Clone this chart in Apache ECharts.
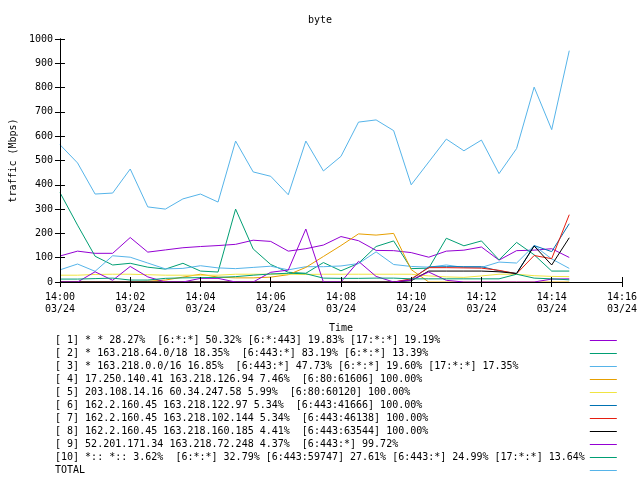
<!DOCTYPE html>
<html>
<head>
<meta charset="utf-8">
<script src="https://cdn.jsdelivr.net/npm/echarts@6/dist/echarts.min.js"></script>
<style>html,body{margin:0;padding:0;background:#fff}#c{width:640px;height:480px}</style>
</head>
<body>
<div id="c"></div>
<script>
const times = ['14:00:00','14:00:30','14:01:00','14:01:30','14:02:00','14:02:30','14:03:00','14:03:30','14:04:00','14:04:30',
  '14:05:00','14:05:30','14:06:00','14:06:30','14:07:00','14:07:30','14:08:00','14:08:30','14:09:00','14:09:30',
  '14:10:00','14:10:30','14:11:00','14:11:30','14:12:00','14:12:30','14:13:00','14:13:30','14:14:00','14:14:30'];
const tickLabels = ['14:00\n03/24','14:02\n03/24','14:04\n03/24','14:06\n03/24','14:08\n03/24','14:10\n03/24','14:12\n03/24','14:14\n03/24','14:16\n03/24'];
const yTicks = [0,100,200,300,400,500,600,700,800,900,1000];

const names = [
  '[ 1] * * 28.27%  [6:*:*] 50.32% [6:*:443] 19.83% [17:*:*] 19.19%',
  '[ 2] * 163.218.64.0/18 18.35%  [6:443:*] 83.19% [6:*:*] 13.39%',
  '[ 3] * 163.218.0.0/16 16.85%  [6:443:*] 47.73% [6:*:*] 19.60% [17:*:*] 17.35%',
  '[ 4] 17.250.140.41 163.218.126.94 7.46%  [6:80:61606] 100.00%',
  '[ 5] 203.108.14.16 60.34.247.58 5.99%  [6:80:60120] 100.00%',
  '[ 6] 162.2.160.45 163.218.122.97 5.34%  [6:443:41666] 100.00%',
  '[ 7] 162.2.160.45 163.218.102.144 5.34%  [6:443:46138] 100.00%',
  '[ 8] 162.2.160.45 163.218.160.185 4.41%  [6:443:63544] 100.00%',
  '[ 9] 52.201.171.34 163.218.72.248 4.37%  [6:443:*] 99.72%',
  '[10] *:: *:: 3.62%  [6:*:*] 32.79% [6:443:59747] 27.61% [6:443:*] 24.99% [17:*:*] 13.64%',
  'TOTAL'
];
const colors = ['#9400d3','#009e73','#56b4e9','#e69f00','#f0e442','#0072b2','#e51e10','#000000','#9400d3','#009e73','#56b4e9'];

const s1 = [107,127,118,118,183,123,132,141,146,150,155,172,167,127,137,152,187,170,130,129,121,102,127,131,144,90,129,131,137,101];
const s2 = [368,234,106,70,77,61,53,77,45,41,300,136,72,40,36,80,46,77,146,169,55,57,180,149,169,91,163,112,45,45];
const s3 = [50,74,44,108,102,78,54,56,67,58,55,60,65,50,63,63,66,76,124,72,64,61,70,60,60,82,78,150,95,56];
const s4 = [0,0,0,0,0,3,8,20,32,20,17,17,20,30,60,105,150,198,193,200,51,0,0,0,0,0,0,0,0,0];
const s5 = [28,28,31,32,32,30,28,28,28,28,32,32,32,32,31,32,32,32,32,32,32,25,21,19,25,32,32,26,23,22];
const s6 = [0,0,0,0,0,0,0,0,0,0,0,0,0,0,0,0,0,0,0,0,10,62,63,63,63,46,35,150,125,240];
const s7 = [0,0,0,0,0,0,0,0,0,0,0,0,0,0,0,0,0,0,0,0,13,59,59,58,57,48,34,109,96,277];
const s8 = [0,0,0,0,0,0,0,0,0,0,0,0,0,0,0,0,0,0,0,0,5,45,45,45,45,42,35,148,70,182];
const s9 = [0,0,42,7,64,21,0,0,15,15,0,0,40,49,218,0,0,85,23,0,8,41,7,0,0,0,0,0,12,13];
const s10 = [12,12,14,16,8,8,15,17,18,19,22,28,33,36,34,16,15,15,16,16,13,13,13,13,13,13,32,16,13,9];
const total = [565,490,362,366,465,309,300,342,362,329,580,453,435,359,580,457,517,658,667,623,400,494,588,540,584,446,549,802,627,952];

const allSeries = [s1,s2,s3,s4,s5,s6,s7,s8,s9,s10,total];

function minutesOf(t){ const p=t.split(':').map(Number); return (p[0]-14)*60 + p[1] + p[2]/60; }
const xs = times.map(minutesOf);

const FONT = 'DejaVu Sans Mono';
const maxLen = Math.max(...names.map(n=>n.length));

const chart = echarts.init(document.getElementById('c'), null, {renderer:'canvas'});
const axisCommon = {
  axisLine:{show:true, lineStyle:{color:'#000', width:1}},
  axisTick:{show:true, inside:true, length:5, lineStyle:{color:'#000'}},
  splitLine:{show:false}
};
chart.setOption({
  animation:false,
  backgroundColor:'#fff',
  title:{text:'byte', left:'center', top:15, padding:0, textStyle:{fontFamily:FONT, fontSize:10, fontWeight:'normal', color:'#000'}},
  grid:{left:58, right:18, top:39, bottom:198},
  legend:{
    orient:'vertical', left:55, top:334, padding:0, height:145, align:'right', itemGap:0,
    icon:'rect', itemWidth:27, itemHeight:1,
    data:names,
    formatter: n => n.padEnd(maxLen, ' '),
    textStyle:{fontFamily:FONT, fontSize:10, color:'#000', lineHeight:13}
  },
  xAxis:[
    Object.assign({type:'value', position:'bottom', min:0, max:16, interval:2, z:10,
      name:'Time', nameLocation:'middle', nameGap:41,
      nameTextStyle:{fontFamily:FONT, fontSize:10, color:'#000'},
      axisLabel:{fontFamily:FONT, fontSize:10, color:'#000', lineHeight:12, margin:9,
        formatter: v => tickLabels[Math.round(v/2)]}}, axisCommon),
    Object.assign({type:'value', position:'top', min:0, max:16, interval:2, z:10,
      axisLabel:{show:false}}, axisCommon)
  ],
  yAxis:[
    Object.assign({type:'value', position:'left', min:0, max:1000, interval:100, z:10,
      name:'traffic (Mbps)', nameLocation:'middle', nameGap:39, nameRotate:90,
      nameTextStyle:{fontFamily:FONT, fontSize:10, color:'#000'},
      axisLabel:{fontFamily:FONT, fontSize:10, color:'#000', margin:7,
        formatter: v => String(yTicks[Math.round(v/100)])}}, axisCommon),
    Object.assign({type:'value', position:'right', min:0, max:1000, interval:100, z:10,
      axisLabel:{show:false}}, axisCommon)
  ],
  series: allSeries.map((arr,i)=>({
    name:names[i], type:'line', xAxisIndex:0, yAxisIndex:0,
    data: arr.map((v,j)=>[xs[j], v]),
    symbol:'none', showSymbol:false,
    lineStyle:{width:1, color:colors[i]},
    itemStyle:{color:colors[i]},
    color:colors[i]
  }))
});
</script>
</body>
</html>
